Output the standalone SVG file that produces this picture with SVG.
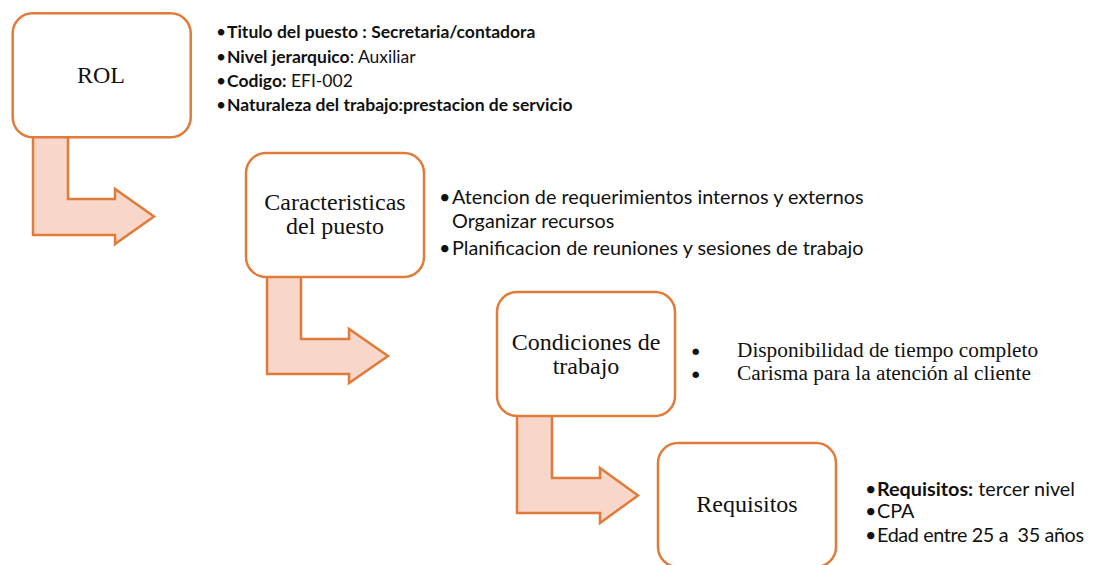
<svg xmlns="http://www.w3.org/2000/svg" width="1093" height="565" viewBox="0 0 1093 565">
<style>
.box{fill:#fff;stroke:#E07B39;stroke-width:2.5}
.arr{fill:#F8D6CA;stroke:#E07B39;stroke-width:2.5;stroke-linejoin:miter}
.lbl{font-family:"Liberation Serif","Times New Roman",serif;font-size:24px;fill:#111;text-anchor:middle}
.s1{font-family:Lato,"Liberation Sans",sans-serif;font-size:17.5px;fill:#111}
.s2{font-family:Lato,"Liberation Sans",sans-serif;font-size:19.8px;fill:#111;white-space:pre}
.sr{font-family:"Liberation Serif","Times New Roman",serif;font-size:21.3px;fill:#111}
.bl{font-family:"DejaVu Sans",sans-serif;font-size:8.5px;fill:#111}
.b{font-weight:bold}
</style>
<rect width="1093" height="565" fill="#fff"/>
<g id="connectors">
<path class="arr" d="M33,136 V235 H115 V244 L154,216.5 L115,189 V199 H68 V136 Z"/>
<path class="arr" d="M267,276 V374 H349 V383 L388,356 L349,329 V339 H301 V276 Z"/>
<path class="arr" d="M517,415 V513 H600 V523 L638,495.5 L600,468 V478 H552 V415 Z"/>
</g>
<g id="rol">
<rect class="box" x="12.7" y="13.3" width="178" height="124" rx="20"/>
<text class="lbl" x="101" y="83">ROL</text>
</g>
<g id="rol-info">
<text class="s1" x="216" y="38">•</text><text class="s1 b" x="227" y="38">Titulo del puesto : Secretaria/contadora</text>
<text class="s1" x="216" y="63">•</text><text class="s1" x="227" y="63"><tspan class="b">Nivel jerarquico</tspan>: Auxiliar</text>
<text class="s1" x="216" y="87">•</text><text class="s1" x="227" y="87"><tspan class="b">Codigo:</tspan> EFI-002</text>
<text class="s1" x="216" y="111">•</text><text class="s1 b" x="227" y="111">Naturaleza del trabajo:prestacion de servicio</text>
</g>
<g id="caracteristicas">
<rect class="box" x="246" y="153" width="178" height="124" rx="20"/>
<text class="lbl" x="335" y="210">Caracteristicas</text>
<text class="lbl" x="335" y="234">del puesto</text>
</g>
<g id="caracteristicas-info">
<text class="s2" x="439" y="204">•</text>
<text class="s2" x="452" y="204">Atencion de requerimientos internos y externos</text>
<text class="s2" x="452" y="228">Organizar recursos</text>
<text class="s2" x="439" y="255">•</text><text class="s2" x="452" y="255">Planificacion de reuniones y sesiones de trabajo</text>
</g>
<g id="condiciones">
<rect class="box" x="497" y="292" width="178" height="124" rx="20"/>
<text class="lbl" x="586" y="350">Condiciones de</text>
<text class="lbl" x="586" y="374">trabajo</text>
</g>
<g id="condiciones-info">
<text class="bl" x="692" y="354">●</text><text class="sr" x="737" y="357">Disponibilidad de tiempo completo</text>
<text class="bl" x="692" y="377">●</text><text class="sr" x="737" y="380">Carisma para la atención al cliente</text>
</g>
<g id="requisitos">
<rect class="box" x="658" y="443" width="178" height="124" rx="20"/>
<text class="lbl" x="747" y="512">Requisitos</text>
</g>
<g id="requisitos-info">
<text class="s2" x="865" y="496">•</text><text class="s2" x="877" y="496"><tspan class="b">Requisitos:</tspan> tercer nivel</text>
<text class="s2" x="865" y="518">•</text><text class="s2" x="877" y="518">CPA</text>
<text class="s2" x="865" y="542">•</text><text class="s2" x="877" y="542" textLength="207" lengthAdjust="spacing">Edad entre 25 a  35 años</text>
</g>
</svg>
